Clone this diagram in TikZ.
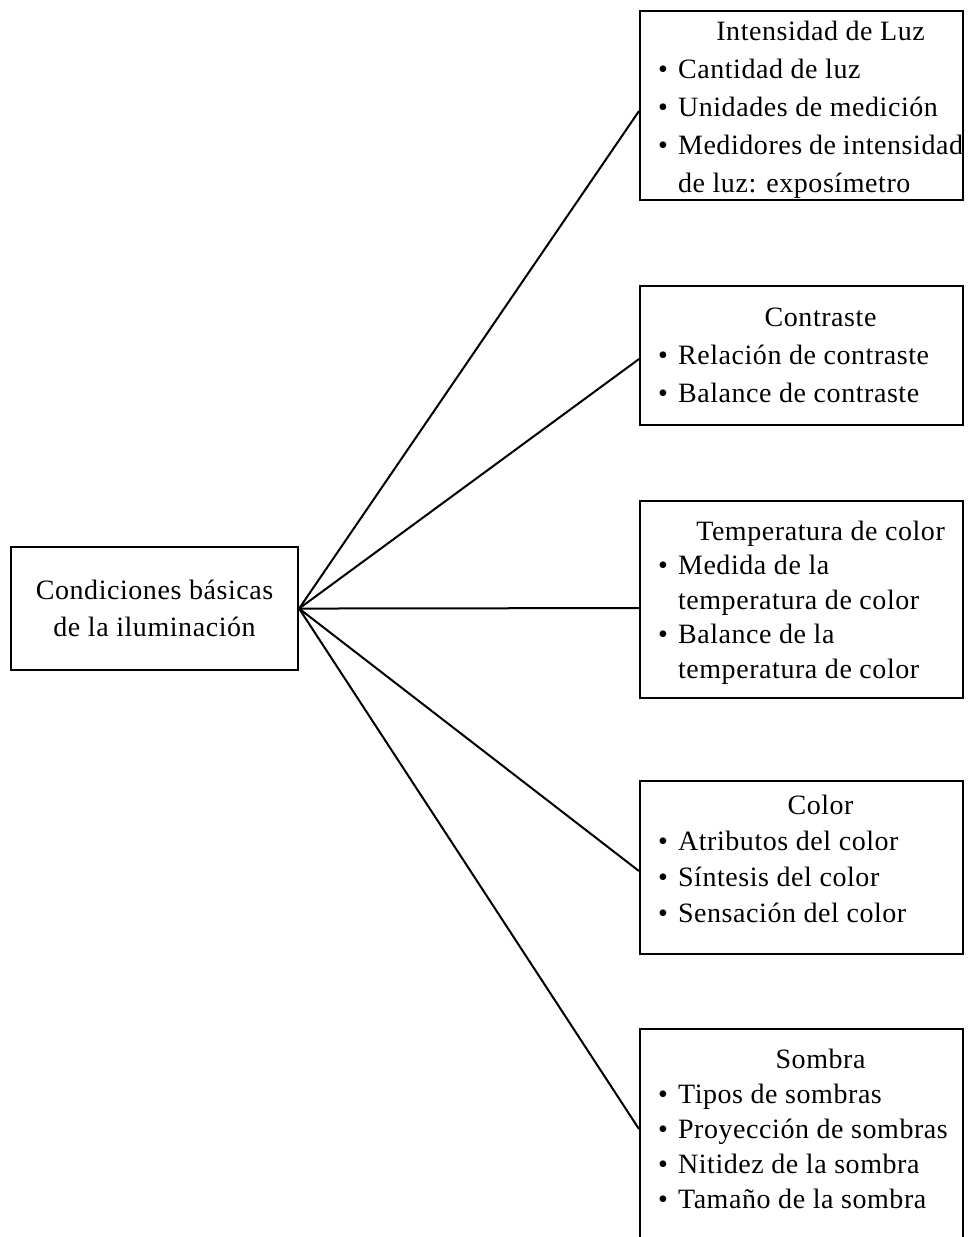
\documentclass[tikz,border=0pt]{standalone}
\usepackage{fontspec}
\setmainfont[LetterSpace=2]{Liberation Serif}
\newcommand{\hd}[1]{\hspace*{20pt}\makebox[285pt][c]{#1}}
\newcommand{\bl}[1]{\makebox[20pt][l]{\textbullet}#1}
\newcommand{\cn}[1]{\hspace*{20pt}#1}
\newcommand{\inbox}[2]{\hspace*{18pt}\parbox{305pt}{\fontsize{28}{#1}\selectfont #2}}
\begin{document}
\begin{tikzpicture}[x=1pt, y={(0pt,-1pt)},
  box/.style={draw, line width=2.1pt, inner sep=0pt, minimum width=323pt,
    anchor=north west},
  txt/.style={inner sep=0pt, anchor=center},
  mainbox/.style={draw, line width=2.1pt, inner sep=0pt, minimum width=287pt,
    minimum height=123pt, anchor=north west, align=center,
    font=\fontsize{28}{36.5}\selectfont},
  link/.style={line width=2pt}]
\useasboundingbox (0,0) rectangle (969,1237);
\clip (0,0) rectangle (969,1237);
\node[mainbox] (c) at (10,546) {Condiciones básicas\\de la iluminación};
\node[box, minimum height=189pt] (b1) at (639,10) {};
\node[txt] (t1) at ([xshift=0pt,yshift=-4pt]b1.center) {\inbox{38}{\hd{Intensidad de Luz}\\
  \bl{Cantidad de luz}\\ \bl{Unidades de medición}\\ \bl{Medidores de intensidad}\\
  \cn{de luz: exposímetro}}};
\node[box, minimum height=139pt] (b2) at (639,285) {};
\node[txt] (t2) at ([yshift=0pt]b2.center) {\inbox{38}{\hd{Contraste}\\
  \bl{Relación de contraste}\\ \bl{Balance de contraste}}};
\node[box, minimum height=197pt] (b3) at (639,500) {};
\node[txt] (t3) at ([yshift=-3pt]b3.center) {\inbox{34.5}{\hd{Temperatura de color}\\
  \bl{Medida de la}\\ \cn{temperatura de color}\\ \bl{Balance de la}\\
  \cn{temperatura de color}}};
\node[box, minimum height=173pt] (b4) at (639,780) {};
\node[txt] (t4) at ([yshift=9pt]b4.center) {\inbox{36}{\hd{Color}\\
  \bl{Atributos del color}\\ \bl{Síntesis del color}\\ \bl{Sensación del color}}};
\node[box, minimum height=222pt] (b5) at (639,1028) {};
\node[txt] (t5) at ([yshift=11pt]b5.center) {\inbox{35}{\hd{Sombra}\\
  \bl{Tipos de sombras}\\ \bl{Proyección de sombras}\\ \bl{Nitidez de la sombra}\\
  \bl{Tamaño de la sombra}}};
\draw[link] (c.east) -- ([yshift=-5.5pt]b1.west);
\draw[link] (c.east) -- ([yshift=-3.5pt]b2.west);
\draw[link] (c.east) -- ([yshift=-8.5pt]b3.west);
\draw[link] (c.east) -- ([yshift=-3.5pt]b4.west);
\draw[link] (c.east) -- ([yshift=11pt]b5.west);
\end{tikzpicture}
\end{document}
